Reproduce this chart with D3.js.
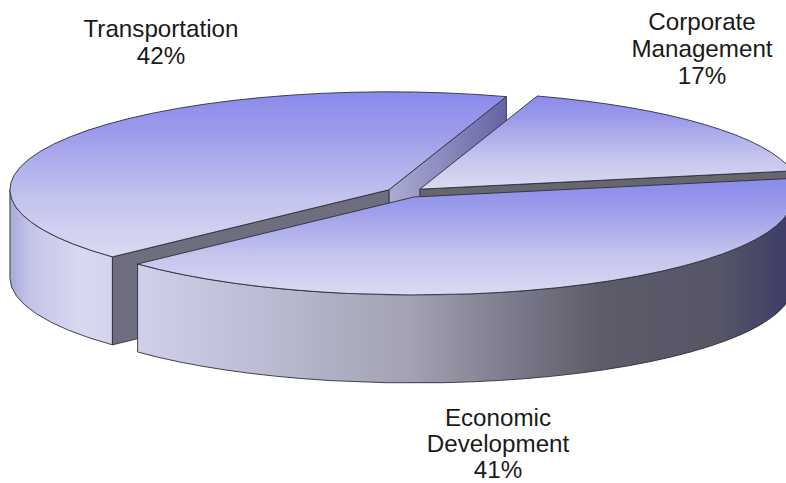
<!DOCTYPE html>
<html>
<head>
<meta charset="utf-8">
<style>
  html, body { margin: 0; padding: 0; background: #fff; overflow: hidden; }
  svg { display: block; }
  text { font-family: "Liberation Sans", Arial, sans-serif; font-size: 24.2px; fill: #1a1a1a; text-anchor: middle; }
</style>
<script src="https://cdn.jsdelivr.net/npm/d3@7"></script>
</head>
<body>
<svg id="chart" width="786" height="483"></svg>
<script>
// Budget shares by division
const categories = ["Transportation", "Corporate Management", "Economic Development"];
const shares = [42, 17, 41];
const labelLines = [["Transportation"], ["Corporate", "Management"], ["Economic", "Development"]];

// Pie geometry
const width = 786, height = 483;
const centre = [405.3, 192.5];
const rx = 379, ry = 98, depth = 88, explode = 19.4;
const firstAngle = -133.15 * Math.PI / 180;
const labelAnchors = [[161, 36.5], [702, 30], [498, 426]];
const lineSteps = [27, 27, 26];

const svg = d3.select("#chart");
const defs = svg.append("defs");

// Top faces fade from saturated periwinkle to pale lavender within each slice
const topGrad = defs.append("linearGradient").attr("id", "top")
  .attr("x1", 0).attr("y1", 0).attr("x2", 0).attr("y2", 1);
[[0, "#8a8aec"], [0.25, "#9c9cea"], [0.65, "#c4c4ee"], [1, "#dadaf2"]].forEach(([o, c]) =>
  topGrad.append("stop").attr("offset", o).attr("stop-color", c));

// Outer rim shading runs left to right across the whole pie
const wallGrad = defs.append("linearGradient").attr("id", "wall")
  .attr("gradientUnits", "userSpaceOnUse")
  .attr("x1", 10).attr("y1", 0).attr("x2", 797).attr("y2", 0);
[[10, "#a8a8dc"], [30, "#c4c4e8"], [80, "#d8d8f0"], [137, "#d0d0ea"], [260, "#bcbcd4"], [410, "#a2a2b2"],
 [520, "#787888"], [600, "#5c5c6a"], [720, "#555566"], [797, "#3a3a68"]].forEach(([x, c]) =>
  wallGrad.append("stop").attr("offset", (x - 10) / 787).attr("stop-color", c));

// Inner cut face running up to the back of the pie
const cutGrad = defs.append("linearGradient").attr("id", "cut")
  .attr("x1", 0).attr("y1", 0).attr("x2", 1).attr("y2", 0);
[[0, "#acacd2"], [1, "#6464a6"]].forEach(([o, c]) =>
  cutGrad.append("stop").attr("offset", o).attr("stop-color", c));

const slices = d3.pie().sort(null)
  .startAngle(firstAngle).endAngle(firstAngle + 2 * Math.PI)(shares);

// Screen position on the tilted ellipse; angle follows the d3.arc convention (0 = up, clockwise)
const onRim = (a, c, drop = 0) => [c[0] + rx * Math.sin(a), c[1] - ry * Math.cos(a) + drop];

const apexOf = s => {
  const mid = (s.startAngle + s.endAngle) / 2;
  return [centre[0] + explode * Math.sin(mid), centre[1] - explode * Math.cos(mid) * ry / rx];
};

const stroke = "#2e2e3c", strokeWidth = 0.9;

const drawFace = (d, fill) => svg.append("path").attr("d", d).attr("fill", fill)
  .attr("stroke", stroke).attr("stroke-width", strokeWidth).attr("stroke-linejoin", "round");

// Flat quad dropped from a radial edge
const cutFace = (c, a) => {
  const p = onRim(a, c), q = onRim(a, c, depth);
  return `M${c}L${p}L${q}L${c[0]},${c[1] + depth}Z`;
};

// Visible band of the outer wall between two angles
const rimBand = (c, a0, a1) => {
  const p0 = onRim(a0, c), p1 = onRim(a1, c), q1 = onRim(a1, c, depth), q0 = onRim(a0, c, depth);
  return `M${p0}A${rx},${ry} 0 0 1 ${p1}L${q1}A${rx},${ry} 0 0 0 ${q0}Z`;
};

const topFace = d3.arc().innerRadius(0).outerRadius(rx);
const drawTop = (s, c) => svg.append("path")
  .attr("d", topFace(s))
  .attr("transform", `translate(${c}) scale(1,${ry / rx})`)
  .attr("fill", "url(#top)")
  .attr("stroke", stroke).attr("stroke-width", strokeWidth)
  .attr("stroke-linejoin", "round")
  .attr("vector-effect", "non-scaling-stroke");

const [tran, corp, econ] = slices;
const tc = apexOf(tran), cc = apexOf(corp), ec = apexOf(econ);

// Paint back to front: Transportation, then Corporate Management, then Economic Development
drawFace(cutFace(tc, tran.endAngle), "url(#cut)");
drawFace(rimBand(tc, tran.startAngle, -Math.PI / 2), "url(#wall)");
drawFace(cutFace(tc, tran.startAngle), "#6e6e7e");
drawTop(tran, tc);

drawFace(cutFace(cc, corp.endAngle), "#66666f");
drawTop(corp, cc);

drawFace(rimBand(ec, Math.PI / 2, econ.endAngle), "url(#wall)");
drawTop(econ, ec);

// Category labels with their percentages underneath
labelLines.forEach((lines, i) => {
  const [x, y] = labelAnchors[i];
  const t = svg.append("text").attr("x", x).attr("y", y);
  [...lines, shares[i] + "%"].forEach((line, j) =>
    t.append("tspan").attr("x", x).attr("y", y + j * lineSteps[i]).text(line));
});
</script>
</body>
</html>
